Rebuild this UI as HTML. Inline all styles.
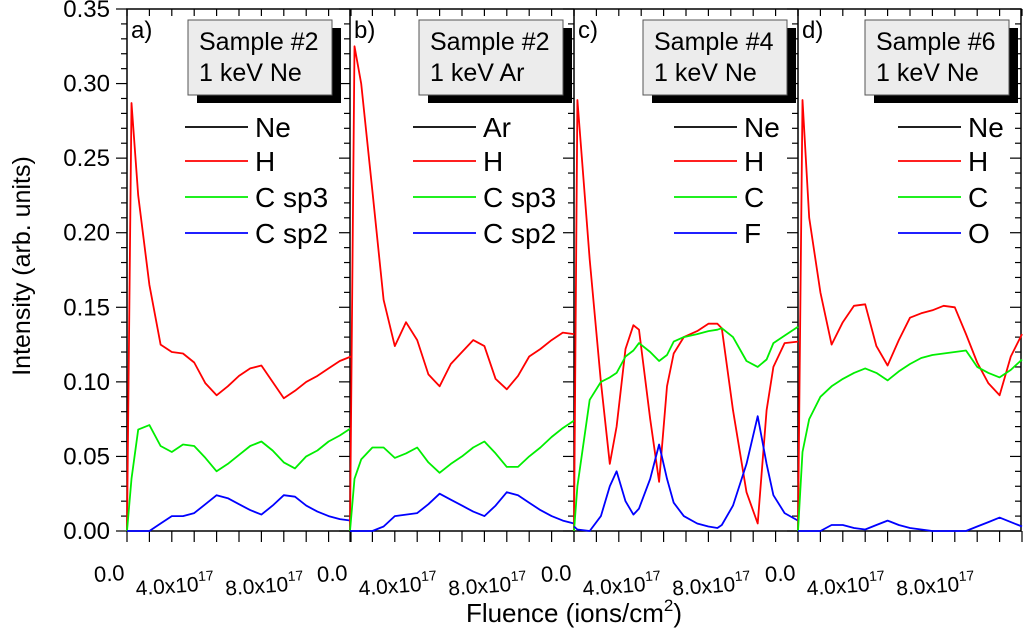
<!DOCTYPE html>
<html><head><meta charset="utf-8"><style>
html,body{margin:0;padding:0;background:#fff;}
svg{display:block;font-family:"Liberation Sans",Arial,sans-serif;}
</style></head><body>
<svg id="chart" width="1024" height="638" viewBox="0 0 1024 638" xmlns="http://www.w3.org/2000/svg">
<g id="axes"></g>
<g id="series"></g>
<g id="legends"></g>
<text transform="translate(30,266) rotate(-90)" text-anchor="middle" font-size="25">Intensity (arb. units)</text>
<text x="574" y="622" text-anchor="middle" font-size="26">Fluence (ions/cm<tspan font-size="17" dy="-11">2</tspan><tspan dy="11">)</tspan></text>
</svg>
<script>
// ---- data ----
const gridStd = [0,0.2,0.5,1,1.5,2,2.5,3,3.5,4,4.5,5,5.5,6,6.5,7,7.5,8,8.5,9,9.5,10]; // x1e17 ions/cm2
const gridC = [0,0.15,0.7,1.2,1.6,1.9,2.3,2.65,2.9,3.4,3.8,4.15,4.45,4.9,5.5,6.0,6.4,6.6,7.1,7.7,8.2,8.6,8.9,9.4,10];
const aH = [0,0.287,0.225,0.165,0.125,0.120,0.119,0.113,0.099,0.091,0.097,0.104,0.109,0.111,0.100,0.089,0.094,0.100,0.104,0.109,0.114,0.117];
const aSp3 = [0,0.035,0.068,0.071,0.057,0.053,0.058,0.057,0.049,0.040,0.045,0.051,0.057,0.060,0.054,0.046,0.042,0.050,0.054,0.060,0.064,0.069];
const aSp2 = [0,0,0,0,0.005,0.010,0.010,0.012,0.018,0.024,0.022,0.018,0.014,0.011,0.017,0.024,0.023,0.017,0.013,0.010,0.008,0.007];
const bH = [0,0.325,0.30,0.228,0.155,0.124,0.140,0.128,0.105,0.097,0.112,0.120,0.128,0.124,0.102,0.095,0.104,0.117,0.122,0.128,0.133,0.132];
const bSp3 = [0,0.035,0.048,0.056,0.056,0.049,0.052,0.056,0.046,0.039,0.045,0.050,0.056,0.060,0.052,0.043,0.043,0.050,0.056,0.063,0.069,0.074];
const bSp2 = [0,0,0,0,0.003,0.010,0.011,0.012,0.018,0.025,0.021,0.017,0.013,0.010,0.017,0.026,0.024,0.019,0.014,0.010,0.007,0.005];
const cH = [0,0.289,0.182,0.100,0.045,0.070,0.122,0.138,0.135,0.075,0.033,0.097,0.119,0.130,0.134,0.139,0.139,0.136,0.081,0.026,0.005,0.081,0.110,0.126,0.127];
const cC = [0,0.030,0.088,0.100,0.103,0.106,0.117,0.121,0.126,0.120,0.114,0.118,0.127,0.130,0.132,0.134,0.135,0.136,0.130,0.114,0.110,0.115,0.126,0.131,0.137];
const cF = [0.003,0.001,0,0.010,0.030,0.040,0.020,0.011,0.015,0.035,0.058,0.035,0.019,0.010,0.005,0.003,0.002,0.004,0.017,0.045,0.077,0.045,0.024,0.012,0.007];
const dH = [0,0.289,0.21,0.160,0.125,0.140,0.151,0.152,0.124,0.111,0.128,0.143,0.146,0.148,0.151,0.150,0.132,0.113,0.099,0.091,0.117,0.132];
const dC = [0,0.053,0.075,0.090,0.097,0.102,0.106,0.109,0.106,0.101,0.107,0.112,0.116,0.118,0.119,0.120,0.121,0.110,0.106,0.103,0.108,0.115];
const dO = [0,0,0,0,0.004,0.004,0.002,0.001,0.004,0.007,0.004,0.002,0.001,0,0,0,0,0.003,0.006,0.009,0.006,0.003];
const yTicks = [0,0.05,0.10,0.15,0.20,0.25,0.30,0.35];
const yTickLabels = ["0.00","0.05","0.10","0.15","0.20","0.25","0.30","0.35"];
const xTicks = [0,4,8];
const xTickLabels = ["0.0","4.0x10","8.0x10"];
const panelLabels = ["a)","b)","c)","d)"];
const sampleLine1 = ["Sample #2","Sample #2","Sample #4","Sample #6"];
const sampleLine2 = ["1 keV Ne","1 keV Ar","1 keV Ne","1 keV Ne"];
const legendNames = [["Ne","H","C sp3","C sp2"],["Ar","H","C sp3","C sp2"],["Ne","H","C","F"],["Ne","H","C","O"]];

// ---- layout ----
const NS="http://www.w3.org/2000/svg";
const panelX0=[127,350,574,798], PW=224, TOP=9, BOT=531;
const xScale=(p,f)=>panelX0[p]+f/10*PW;
const yScale=v=>BOT-v*(BOT-TOP)/0.35;
function mk(tag,attrs,parent){const e=document.createElementNS(NS,tag);for(const k in attrs)e.setAttribute(k,attrs[k]);parent.appendChild(e);return e;}
const axes=document.getElementById('axes'), series=document.getElementById('series'), legends=document.getElementById('legends');

const frame=mk('rect',{x:127,y:TOP,width:1021-127,height:BOT-TOP,fill:'none',stroke:'#000','stroke-width':1.5},axes);


for(let p=1;p<4;p++){const l=mk('line',{x1:panelX0[p],x2:panelX0[p],y1:TOP,y2:BOT,stroke:'#000','stroke-width':1.5},axes);

}

for(let i=0;i<=35;i++){const v=i/100,y=yScale(v),maj=i%5===0;
  mk('line',{x1:127-(maj?11:6),x2:127,y1:y,y2:y,stroke:'#000','stroke-width':1.2},axes);
  [350,574,798,1021].forEach(x=>mk('line',{x1:x-(maj?11:6),x2:x,y1:y,y2:y,stroke:'#000','stroke-width':1.2},axes));
}
yTicks.forEach((v,i)=>{const t=mk('text',{x:110,y:yScale(v)+8,'text-anchor':'end','font-size':24},axes);t.textContent=yTickLabels[i];

});

for(let p=0;p<4;p++){
  for(let k=0;k<=10;k++){const x=xScale(p,k);
    mk('line',{x1:x,x2:x,y1:BOT,y2:BOT+11,stroke:'#000','stroke-width':1.2},axes);
    mk('line',{x1:x,x2:x,y1:TOP,y2:TOP+7,stroke:'#000','stroke-width':1.2},axes);}
  xTicks.forEach((f,i)=>{const x=xScale(p,f);
    const t=mk('text',{'text-anchor':'end','font-size':i===0?22:21,transform:`translate(${x-2},${i===0?580:590}) rotate(-4)`},axes);
    
    
    t.textContent=xTickLabels[i];
    if(i>0){const s=mk('tspan',{'font-size':14,dy:-10},t);s.textContent='17';}
  });
}

const colors={red:'#ff0000',green:'#00ee00',blue:'#0000ff'};
const panelSeries=[
 [[gridStd,aH,'red','H'],[gridStd,aSp3,'green','C-sp3'],[gridStd,aSp2,'blue','C-sp2']],
 [[gridStd,bH,'red','H'],[gridStd,bSp3,'green','C-sp3'],[gridStd,bSp2,'blue','C-sp2']],
 [[gridC,cH,'red','H'],[gridC,cC,'green','C'],[gridC,cF,'blue','F']],
 [[gridStd,dH,'red','H'],[gridStd,dC,'green','C'],[gridStd,dO,'blue','O']]];
panelSeries.forEach((ss,p)=>{ss.forEach(([xs,ys,c,n])=>{
  const d=xs.map((f,i)=>(i?'L':'M')+xScale(p,f).toFixed(1)+','+yScale(ys[i]).toFixed(1)).join(' ');
  const path=mk('path',{d,fill:'none',stroke:colors[c],'stroke-width':1.8,'stroke-linejoin':'round'},series);
  
  
});});

const boxX=[188,419,643,865], legX=[185,413,674,898], rowY=[127,161,197,233];
for(let p=0;p<4;p++){
  const pl=mk('text',{x:panelX0[p]+4,y:38,'font-size':24},legends);pl.textContent=panelLabels[p];
  
  
  const g=mk('g',{},legends);
  
  
  mk('rect',{x:boxX[p]+9,y:28,width:144,height:75,fill:'#000'},g);
  mk('rect',{x:boxX[p],y:20,width:144,height:75,fill:'#ececec',stroke:'#555','stroke-width':1},g);
  const t1=mk('text',{x:boxX[p]+11,y:50,'font-size':25},g);t1.textContent=sampleLine1[p];
  const t2=mk('text',{x:boxX[p]+11,y:81,'font-size':25},g);t2.textContent=sampleLine2[p];
  const lc=['#000',colors.red,colors.green,colors.blue];
  legendNames[p].forEach((n,i)=>{
    const e=mk('g',{},legends);
    
    
    mk('line',{x1:legX[p],x2:legX[p]+63,y1:rowY[i],y2:rowY[i],stroke:lc[i],'stroke-width':1.8},e);
    const t=mk('text',{x:legX[p]+70,y:rowY[i]+10,'font-size':28},e);t.textContent=n;
  });
}
</script>
</body></html>
